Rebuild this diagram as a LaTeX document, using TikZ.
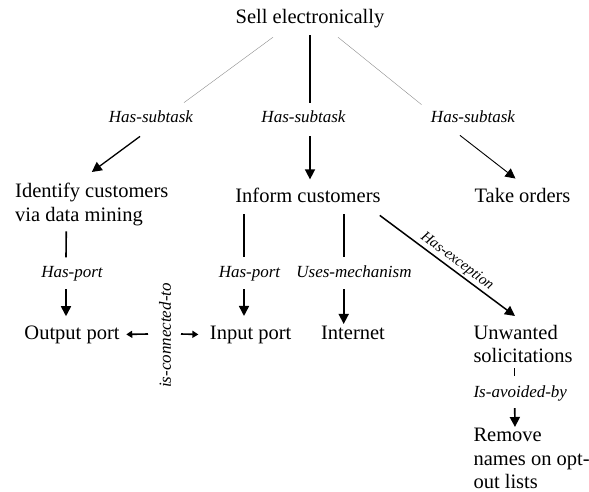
\documentclass[tikz,border=0pt]{standalone}
\usepackage{fontspec}
\setmainfont{Liberation Serif}
\usepackage{tikz}
\usetikzlibrary{arrows.meta,positioning,calc}

\begin{document}
\begin{tikzpicture}[x=1pt, y=-1pt,
    task/.style={inner sep=0pt, font=\fontsize{20.5}{23.5}\selectfont},
    rel/.style={inner sep=0pt, font=\fontsize{17}{20}\selectfont\itshape},
    faint/.style={draw=black!45, line width=0.4pt},
    stem/.style={line width=1.6pt},
    arr/.style={line width=1.6pt, -{Triangle[length=10pt,width=10pt]}},
    tiparr/.style={line width=1.6pt, -{Triangle[length=6pt,width=7pt]}}]
    \useasboundingbox (0,0) rectangle (589,492);

    % Top task and its subtasks
    \node (sell) [task, anchor=base] at (310,24) {Sell electronically};
    \node (hs1) [rel, anchor=base] at (151,123) {Has-subtask};
    \node (hs2) [rel, anchor=base] at (303.5,123) {Has-subtask};
    \node (hs3) [rel, anchor=base] at (473,123) {Has-subtask};
    \node (ident) [task, align=left, anchor=north west] at (15,183) {Identify customers\\via data mining};
    \node (inform) [task, anchor=base] at (308,202) {Inform customers};
    \node (take) [task, anchor=base] at (522.5,202) {Take orders};
    \draw [faint] ([xshift=-37pt,yshift=-8.6pt]sell.south) -- ([xshift=33pt,yshift=8.4pt]hs1.north);
    \draw [arr, line width=1.3pt] ([xshift=-11pt,yshift=-13pt]hs1.south) -- ([yshift=11pt]ident.north);
    \draw [stem, line width=2pt] ([yshift=-6.6pt]sell.south) -- ([xshift=6.5pt,yshift=8.4pt]hs2.north);
    \draw [arr] ([xshift=6.5pt,yshift=-13pt]hs2.south) -- ([xshift=2pt,yshift=8pt]inform.north);
    \draw [faint] ([xshift=28pt,yshift=-8.6pt]sell.south) -- ([xshift=-51.5pt,yshift=6.4pt]hs3.north);
    \draw [arr, line width=0.9pt] ([xshift=-13pt,yshift=-12pt]hs3.south) -- ([xshift=-7pt,yshift=9pt]take.north);

    % Ports and mechanism
    \node (hp1) [rel, anchor=base] at (72,277) {Has-port};
    \node (hp2) [rel, anchor=base] at (249.5,277) {Has-port};
    \node (um) [rel, anchor=base] at (354,277) {Uses-mechanism};
    \node (outport) [task, anchor=base] at (72,339) {Output port};
    \node (inport) [task, anchor=base] at (250.7,339) {Input port};
    \node (internet) [task, anchor=base] at (353,339) {Internet};
    \node (ict) [rel, rotate=90] at (165,335.5) {is-connected-to};
    \draw [stem] ([xshift=-25.5pt,yshift=-5.6pt]ident.south) -- ([xshift=-6pt,yshift=8.4pt]hp1.north);
    \draw [arr] ([xshift=-6pt,yshift=-8.3pt]hp1.south) -- ([xshift=-6pt,yshift=9pt]outport.north);
    \draw [stem] ([xshift=-64pt,yshift=-12pt]inform.south) -- ([xshift=-5.5pt,yshift=8.4pt]hp2.north);
    \draw [arr] ([xshift=-5.5pt,yshift=-8.3pt]hp2.south) -- ([xshift=-6.7pt,yshift=9.4pt]inport.north);
    \draw [stem] ([xshift=35.7pt,yshift=-12pt]inform.south) -- ([xshift=-10.3pt,yshift=8.4pt]um.north);
    \draw [arr] ([xshift=-10.3pt,yshift=-12pt]um.south) -- ([xshift=-9.3pt,yshift=1.4pt]internet.north);
    \draw [tiparr] ([xshift=-17pt,yshift=1.5pt]ict.center) -- ([xshift=6.5pt]outport.east);
    \draw [tiparr] ([xshift=16pt,yshift=1.5pt]ict.center) -- ([xshift=-11.4pt]inport.west);

    % Exception
    \node (unwanted) [task, align=left, anchor=north west] at (473.3,325) {Unwanted\\solicitations};
    \node (iab) [rel, anchor=base] at (520.3,397) {Is-avoided-by};
    \node (remove) [task, align=left, anchor=north west] at (473.3,428) {Remove\\names on opt-\\out lists};
    \draw [arr, line width=1.5pt] ([xshift=-1pt,yshift=-13pt]inform.south east) -- ([xshift=41.7pt,yshift=9pt]unwanted.north west)
        node [pos=0.53, sloped, above, inner sep=1.8pt, font=\fontsize{15}{18}\selectfont\itshape] {Has-exception};
    \draw [stem, line width=1.5pt] ([xshift=41.4pt,yshift=-5pt]unwanted.south west) -- ([xshift=-5.6pt,yshift=9.4pt]iab.north);
    \draw [arr] ([xshift=-5.6pt,yshift=-7.3pt]iab.south) -- ([xshift=41.7pt,yshift=1pt]remove.north west);
\end{tikzpicture}
\end{document}
